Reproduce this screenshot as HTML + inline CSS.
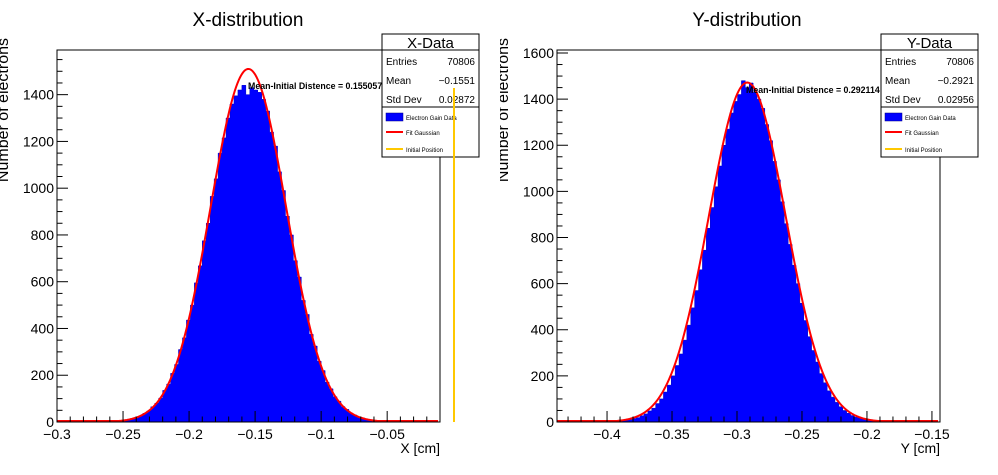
<!DOCTYPE html>
<html><head><meta charset="utf-8">
<style>
html,body{margin:0;padding:0;background:#fff;}
svg{display:block;font-family:"Liberation Sans",sans-serif;}
</style></head>
<body>
<svg id="c" width="998" height="475" viewBox="0 0 998 475" xmlns="http://www.w3.org/2000/svg">
<defs><clipPath id="clipL"><rect x="0" y="0" width="499" height="475"/></clipPath><clipPath id="clipR"><rect x="500" y="0" width="498" height="475"/></clipPath></defs>
</svg>
<script>
// ---- data ----
const xBinStart = -0.2590;
const xBinWidth = 0.003;
const xCounts = [3,4,6,7,12,14,21,26,37,47,65,80,102,135,162,208,246,310,360,436,500,595,668,775,850,965,1040,1150,1215,1300,1360,1395,1420,1440,1400,1430,1420,1410,1380,1330,1240,1180,1070,990,880,800,690,620,520,460,375,325,260,220,170,142,108,89,66,54,38,30,21,17,11,9,6,4,3,2];
const yBinStart = -0.3956;
const yBinWidth = 0.003;
const yCounts = [3,4,5,8,10,15,19,27,35,48,60,80,100,130,160,200,245,295,355,420,495,570,660,745,840,930,1020,1110,1200,1270,1340,1390,1420,1480,1450,1470,1430,1400,1360,1290,1220,1130,1050,955,860,770,680,600,515,440,370,310,260,210,170,135,108,85,66,50,38,28,21,16,12,8,6,4,3,2];
const xFit = [1510,-0.1551,0.0287];
const yFit = [1472,-0.2921,0.02956];
const xTicks = ["-0.3","-0.25","-0.2","-0.15","-0.1","-0.05"];
const yTicksLeft = [0,200,400,600,800,1000,1200,1400];
const yTicksRight = [0,200,400,600,800,1000,1200,1400,1600];
const xTicksRight = ["-0.4","-0.35","-0.3","-0.25","-0.2","-0.15"];
const xStats = ["70806","\u22120.1551","0.02872"];
const yStats = ["70806","\u22120.2921","0.02956"];

const NS="http://www.w3.org/2000/svg";
const svg=document.getElementById('c');
function mk(tag,attrs,parent){const e=document.createElementNS(NS,tag);for(const k in attrs)e.setAttribute(k,attrs[k]);(parent||svg).appendChild(e);return e;}
function txt(s,attrs,parent){const e=mk('text',attrs,parent);e.textContent=s;return e;}

function panel(o){
  const g=mk('g',{'clip-path':'url(#'+o.clip+')'});
  
  
  const sx=v=>o.L+(v-o.xmin)/(o.xmax-o.xmin)*(o.R-o.L);
  const sy=v=>o.B-(v-0)/(o.ymax)*(o.B-o.T);
  let d='M'+sx(o.start)+','+o.B;
  o.counts.forEach((c,i)=>{const x0=sx(o.start+i*o.w),x1=sx(o.start+(i+1)*o.w);d+=' L'+x0+','+sy(c)+' L'+x1+','+sy(c);});
  d+=' L'+sx(o.start+o.counts.length*o.w)+','+o.B+' Z';
  const h=mk('path',{d:d,fill:'#0000ff',stroke:'#0000c8','stroke-width':0.5},g);
  
  
  let fd='';const n=300;
  for(let i=0;i<=n;i++){const x=o.xmin+(o.xmax-o.xmin)*i/n*0.995;const z=(x-o.fit[1])/o.fit[2];const v=o.fit[0]*Math.exp(-z*z/2);fd+=(i?' L':'M')+sx(x).toFixed(2)+','+Math.min(o.B-1,sy(v)).toFixed(2);}
  const f=mk('path',{d:fd,fill:'none',stroke:'#ff0000','stroke-width':2},g);
  
  
  const fr=mk('rect',{x:o.L,y:o.T,width:o.R-o.L,height:o.B-o.T,fill:'none',stroke:'#000','stroke-width':1},g);
  
  
  for(let v=Math.ceil(o.xmin*100-1e-6);v<=o.xmax*100+1e-6;v++){
    const x=sx(v/100);const major=(Math.abs(v)%5===0);
    mk('line',{x1:x,x2:x,y1:o.B,y2:o.B-(major?11:5.5),stroke:'#000','stroke-width':1},g);
  }
  o.xt.forEach(s=>{const v=parseFloat(s);const t=txt(s.replace('-','\u2212'),{x:sx(v),y:o.B+17,'font-size':14,'text-anchor':'middle'},g);
    
    });
  for(let v=0;v<=o.ymax;v+=50){const y=sy(v);const major=v%200===0;mk('line',{x1:o.L,x2:o.L+(major?11:5.5),y1:y,y2:y,stroke:'#000','stroke-width':1},g);}
  o.yt.forEach(v=>{const t=txt(String(v),{x:o.L-3,y:sy(v)+5,'font-size':14,'text-anchor':'end'},g);
    
    });
  const tt=txt(o.title,{x:o.tx,y:26,'font-size':19,'text-anchor':'middle'},g);
  
  
  const xa=txt(o.xlabel,{x:o.R,y:453,'font-size':14,'text-anchor':'end'},g);
  
  
  const ya=txt('Number of electrons',{x:0,y:0,'font-size':16,'text-anchor':'end',transform:'translate('+(o.L-49)+',38) rotate(-90)'},g);
  
  
  const an=txt(o.ann,{x:o.ax,y:o.ay,'font-size':8.8,'font-weight':'bold'},g);
  
  
  const bx=o.bx,by=34,bw=97,bh=123;
  const sb=mk('g',{},g);
  
  
  mk('rect',{x:bx,y:by,width:bw,height:bh,fill:'#fff',stroke:'#000'},sb);
  mk('line',{x1:bx,x2:bx+bw,y1:by+16,y2:by+16,stroke:'#000'},sb);
  mk('line',{x1:bx,x2:bx+bw,y1:by+73,y2:by+73,stroke:'#000'},sb);
  txt(o.box,{x:bx+bw/2,y:by+14,'font-size':15,'text-anchor':'middle'},sb);
  ['Entries','Mean','Std Dev'].forEach((l,i)=>{
    txt(l,{x:bx+4,y:by+31+i*19,'font-size':10},sb);
    txt(o.stats[i],{x:bx+bw-4,y:by+31+i*19,'font-size':10,'text-anchor':'end'},sb);
  });
  mk('rect',{x:bx+4,y:by+79,width:17,height:8,fill:'#0000ff',stroke:'#000080','stroke-width':0.5},sb);
  txt('Electron Gain Data',{x:bx+24,y:by+86,'font-size':6},sb);
  mk('line',{x1:bx+4,x2:bx+21,y1:by+98,y2:by+98,stroke:'#ff0000','stroke-width':2},sb);
  txt('Fit Gaussian',{x:bx+24,y:by+101,'font-size':6},sb);
  mk('line',{x1:bx+4,x2:bx+21,y1:by+115,y2:by+115,stroke:'#ffc800','stroke-width':2},sb);
  txt('Initial Position',{x:bx+24,y:by+118,'font-size':6},sb);
  if(o.yellow){const yl=mk('line',{x1:o.yellow,x2:o.yellow,y1:88,y2:o.B,stroke:'#ffc800','stroke-width':2},g);
    
    }
}
panel({name:'x-distribution-panel',clip:'clipL',L:57,R:440,T:50,B:422,xmin:-0.3,xmax:-0.01,ymax:1591,start:xBinStart,w:xBinWidth,counts:xCounts,fit:xFit,xt:xTicks,yt:yTicksLeft,title:'X-distribution',tx:248,xlabel:'X [cm]',ann:'Mean-Initial Distence = 0.155057',ax:248,ay:89,bx:382,box:'X-Data',stats:xStats,yellow:454});
panel({name:'y-distribution-panel',clip:'clipR',L:557,R:940,T:50,B:422,xmin:-0.4385,xmax:-0.1438,ymax:1613,start:yBinStart,w:yBinWidth,counts:yCounts,fit:yFit,xt:xTicksRight,yt:yTicksRight,title:'Y-distribution',tx:747,xlabel:'Y [cm]',ann:'Mean-Initial Distence = 0.292114',ax:746,ay:93,bx:881,box:'Y-Data',stats:yStats,yellow:0});
</script>
</body></html>
